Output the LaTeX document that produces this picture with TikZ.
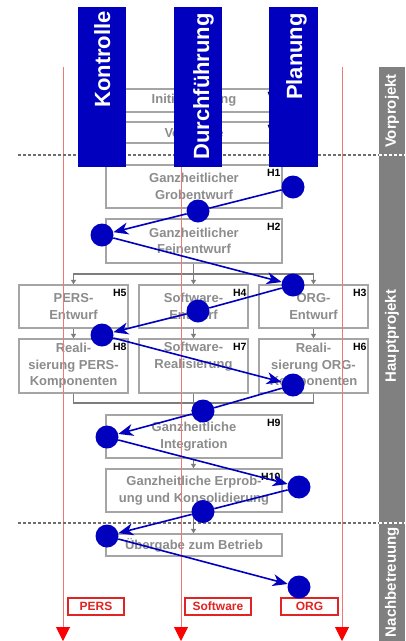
\documentclass[tikz,border=0pt]{standalone}
\usepackage{fontspec}
\setmainfont{Liberation Sans}
\usetikzlibrary{arrows.meta}

\definecolor{barblue}{RGB}{0,0,190}
\definecolor{boxgray}{RGB}{165,165,165}
\definecolor{txtgray}{RGB}{140,140,140}
\definecolor{linkgray}{RGB}{125,125,125}
\definecolor{lanered}{RGB}{238,120,120}
\definecolor{tipred}{RGB}{250,0,0}
\definecolor{tagred}{RGB}{225,35,35}
\definecolor{sidegray}{RGB}{128,128,128}
\definecolor{sepgray}{RGB}{110,110,110}

\tikzset{
  phasebox/.style={draw=boxgray, line width=1.3pt, fill=white, inner sep=0pt,
    text=txtgray, align=center, font=\bfseries\fontsize{13}{16.5}\selectfont},
  widebox/.style={phasebox, minimum width=176pt},
  smallbox/.style={phasebox, minimum width=109pt},
  boxtag/.style={anchor=north east, inner sep=0pt, text=black,
    font=\bfseries\fontsize{10.5}{12}\selectfont},
  link/.style={draw=linkgray, line width=1.3pt},
  conn/.style={link, -{Triangle[length=4.5pt,width=5pt]}},
  lane/.style={draw=lanered, line width=1pt, -{Triangle[length=14pt,width=14pt,color=tipred]}},
  lanetag/.style={draw=tagred, line width=1.2pt, fill=white, text=tagred, inner sep=0pt,
    minimum height=17pt, font=\bfseries\fontsize{12}{14}\selectfont},
  sepline/.style={draw=sepgray, line width=1.5pt, dash pattern=on 3pt off 2pt},
  sidesep/.style={draw=white, line width=1.5pt, dash pattern=on 3pt off 2pt},
  sidelabel/.style={rotate=90, text=white, font=\bfseries\fontsize{15}{17}\selectfont},
  cyclebar/.style={fill=barblue, draw=none},
  cyclelabel/.style={rotate=90, anchor=base east, inner sep=0pt, text=white,
    font=\bfseries\fontsize{22}{24}\selectfont},
  dot/.style={circle, fill=barblue, minimum size=23pt, inner sep=0pt},
  flow/.style={draw=barblue, line width=1.6pt, -{Stealth[length=15pt,width=12pt,inset=4.5pt]}}
}

\begin{document}
\begin{tikzpicture}[x=1pt,y=-1pt]
\useasboundingbox (0,0) rectangle (405,641);

% phase column on the right
\fill[sidegray] (379,67) rectangle (405,641);
\node[sidelabel] (lblvor) at (392,111) {Vorprojekt};
\node[sidelabel] (lblhaupt) at (392,336) {Hauptprojekt};
\node[sidelabel] (lblnach) at (392,582) {Nachbetreuung};

% phases
\node[widebox, minimum height=23pt] (v1) at (194,100.5) {Initialisierung};
\node[boxtag] at ([xshift=-2pt,yshift=-4pt]v1.north east) {V1};
\node[widebox, minimum height=21pt] (v2) at (194,132.5) {Vorstudie};
\node[boxtag] at ([xshift=-2pt,yshift=-4pt]v2.north east) {V2};

\node[widebox, minimum height=43pt] (h1) at (194,186.5) {Ganzheitlicher\\Grobentwurf};
\node[boxtag] at ([xshift=-2pt,yshift=-5pt]h1.north east) {H1};
\node[widebox, minimum height=44pt] (h2) at (194,241) {Ganzheitlicher\\Feinentwurf};
\node[boxtag] at ([xshift=-2pt,yshift=-5pt]h2.north east) {H2};

\node[smallbox, minimum height=43pt] (h5) at (73.5,306.5) {PERS-\\Entwurf};
\node[boxtag] at ([xshift=-2pt,yshift=-5pt]h5.north east) {H5};
\node[smallbox, minimum height=43pt] (h4) at (193.5,306.5) {Software-\\Entwurf};
\node[boxtag] at ([xshift=-2pt,yshift=-5pt]h4.north east) {H4};
\node[smallbox, minimum height=43pt] (h3) at (313.5,306.5) {ORG-\\Entwurf};
\node[boxtag] at ([xshift=-2pt,yshift=-5pt]h3.north east) {H3};

\node[smallbox, minimum height=54pt] (h8) at (73.5,366) {Reali-\\sierung PERS-\\Komponenten};
\node[boxtag] at ([xshift=-2pt,yshift=-5pt]h8.north east) {H8};
\node[smallbox, minimum height=54pt] (h7) at (193.5,366) {Software-\\Realisierung\\\strut};
\node[boxtag] at ([xshift=-2pt,yshift=-5pt]h7.north east) {H7};
\node[smallbox, minimum height=54pt] (h6) at (313.5,366) {Reali-\\sierung ORG-\\Komponenten};
\node[boxtag] at ([xshift=-2pt,yshift=-5pt]h6.north east) {H6};

\node[widebox, minimum height=43pt] (h9) at (194,436.5) {Ganzheitliche\\Integration};
\node[boxtag] at ([xshift=-2pt,yshift=-5pt]h9.north east) {H9};
\node[widebox, minimum height=43pt] (h10) at (194,490.5) {Ganzheitliche Erprob-\\ung und Konsolidierung};
\node[boxtag] at ([xshift=-2pt,yshift=-5pt]h10.north east) {H10};
\node[widebox, minimum height=22pt] (ueb) at (194,545) {Übergabe zum Betrieb};

% flow between phases
\coordinate (split) at (193.5,274);
\draw[link] (h2.south -| split) -- (split);
\draw[conn] (split) -| (h5.north);
\draw[conn] (split) -- (h4.north);
\draw[conn] (split) -| (h3.north);
\draw[conn] (h5) -- (h8);
\draw[conn] (h4) -- (h7);
\draw[conn] (h3) -- (h6);
\coordinate (merge) at (193.5,403);
\draw[link] (h8.south) |- (merge);
\draw[link] (h6.south) |- (merge);
\draw[link] (h7.south) -- (merge);
\draw[conn] (merge) -- (h9.north -| merge);
\draw[conn] (h9.south -| merge) -- (h10.north -| merge);
\draw[conn] (h10.south -| merge) -- (ueb.north -| merge);

% result lanes
\coordinate (persA) at (63,67);   \coordinate (persB) at (63,641);
\coordinate (softA) at (181,67);  \coordinate (softB) at (181,641);
\coordinate (orgA) at (342,67);   \coordinate (orgB) at (342,641);
\draw[lane] (persA) -- (persB);
\draw[lane] (softA) -- (softB);
\draw[lane] (orgA) -- (orgB);
\node[lanetag, minimum width=56pt] (tpers) at (96,606.5) {PERS};
\node[lanetag, minimum width=66pt] (tsoft) at (218,606.5) {Software};
\node[lanetag, minimum width=57pt] (torg) at (309.5,606.5) {ORG};

% phase borders
\coordinate (sepAl) at (18,155);  \coordinate (sepAm) at (379,155); \coordinate (sepAr) at (405,155);
\coordinate (sepBl) at (18,523);  \coordinate (sepBm) at (379,523); \coordinate (sepBr) at (405,523);
\draw[sepline] (sepAl) -- (sepAm);
\draw[sidesep] (sepAm) -- (sepAr);
\draw[sepline] (sepBl) -- (sepBm);
\draw[sidesep] (sepBm) -- (sepBr);

% control cycle columns
\fill[cyclebar] (78,7) rectangle (126,167);
\fill[cyclebar] (174,7) rectangle (222,167);
\fill[cyclebar] (269,7) rectangle (318,167);
\node[cyclelabel] (ckon) at (110,11) {Kontrolle};
\node[cyclelabel] (cdur) at (209,13) {Durchführung};
\node[cyclelabel] (cpla) at (302,13) {Planung};

% cycle steps
\node[dot] (p1) at (293,187) {};
\node[dot] (d1) at (198,211) {};
\node[dot] (k1) at (102,235) {};
\node[dot] (p2) at (293,285) {};
\node[dot] (d2) at (198,311) {};
\node[dot] (k2) at (102,335) {};
\node[dot] (p3) at (293,385) {};
\node[dot] (d3) at (203,411) {};
\node[dot] (k3) at (107,437) {};
\node[dot] (p4) at (299,487) {};
\node[dot] (d4) at (203,511.5) {};
\node[dot] (k4) at (107,536) {};
\node[dot] (p5) at (299,587) {};

\draw[flow] (p1) -- (d1) -- (k1);
\draw[flow] (k1) -- (p2);
\draw[flow] (p2) -- (d2) -- (k2);
\draw[flow] (k2) -- (p3);
\draw[flow] (p3) -- (d3) -- (k3);
\draw[flow] (k3) -- (p4);
\draw[flow] (p4) -- (d4) -- (k4);
\draw[flow] (k4) -- (p5);
\end{tikzpicture}
\end{document}
